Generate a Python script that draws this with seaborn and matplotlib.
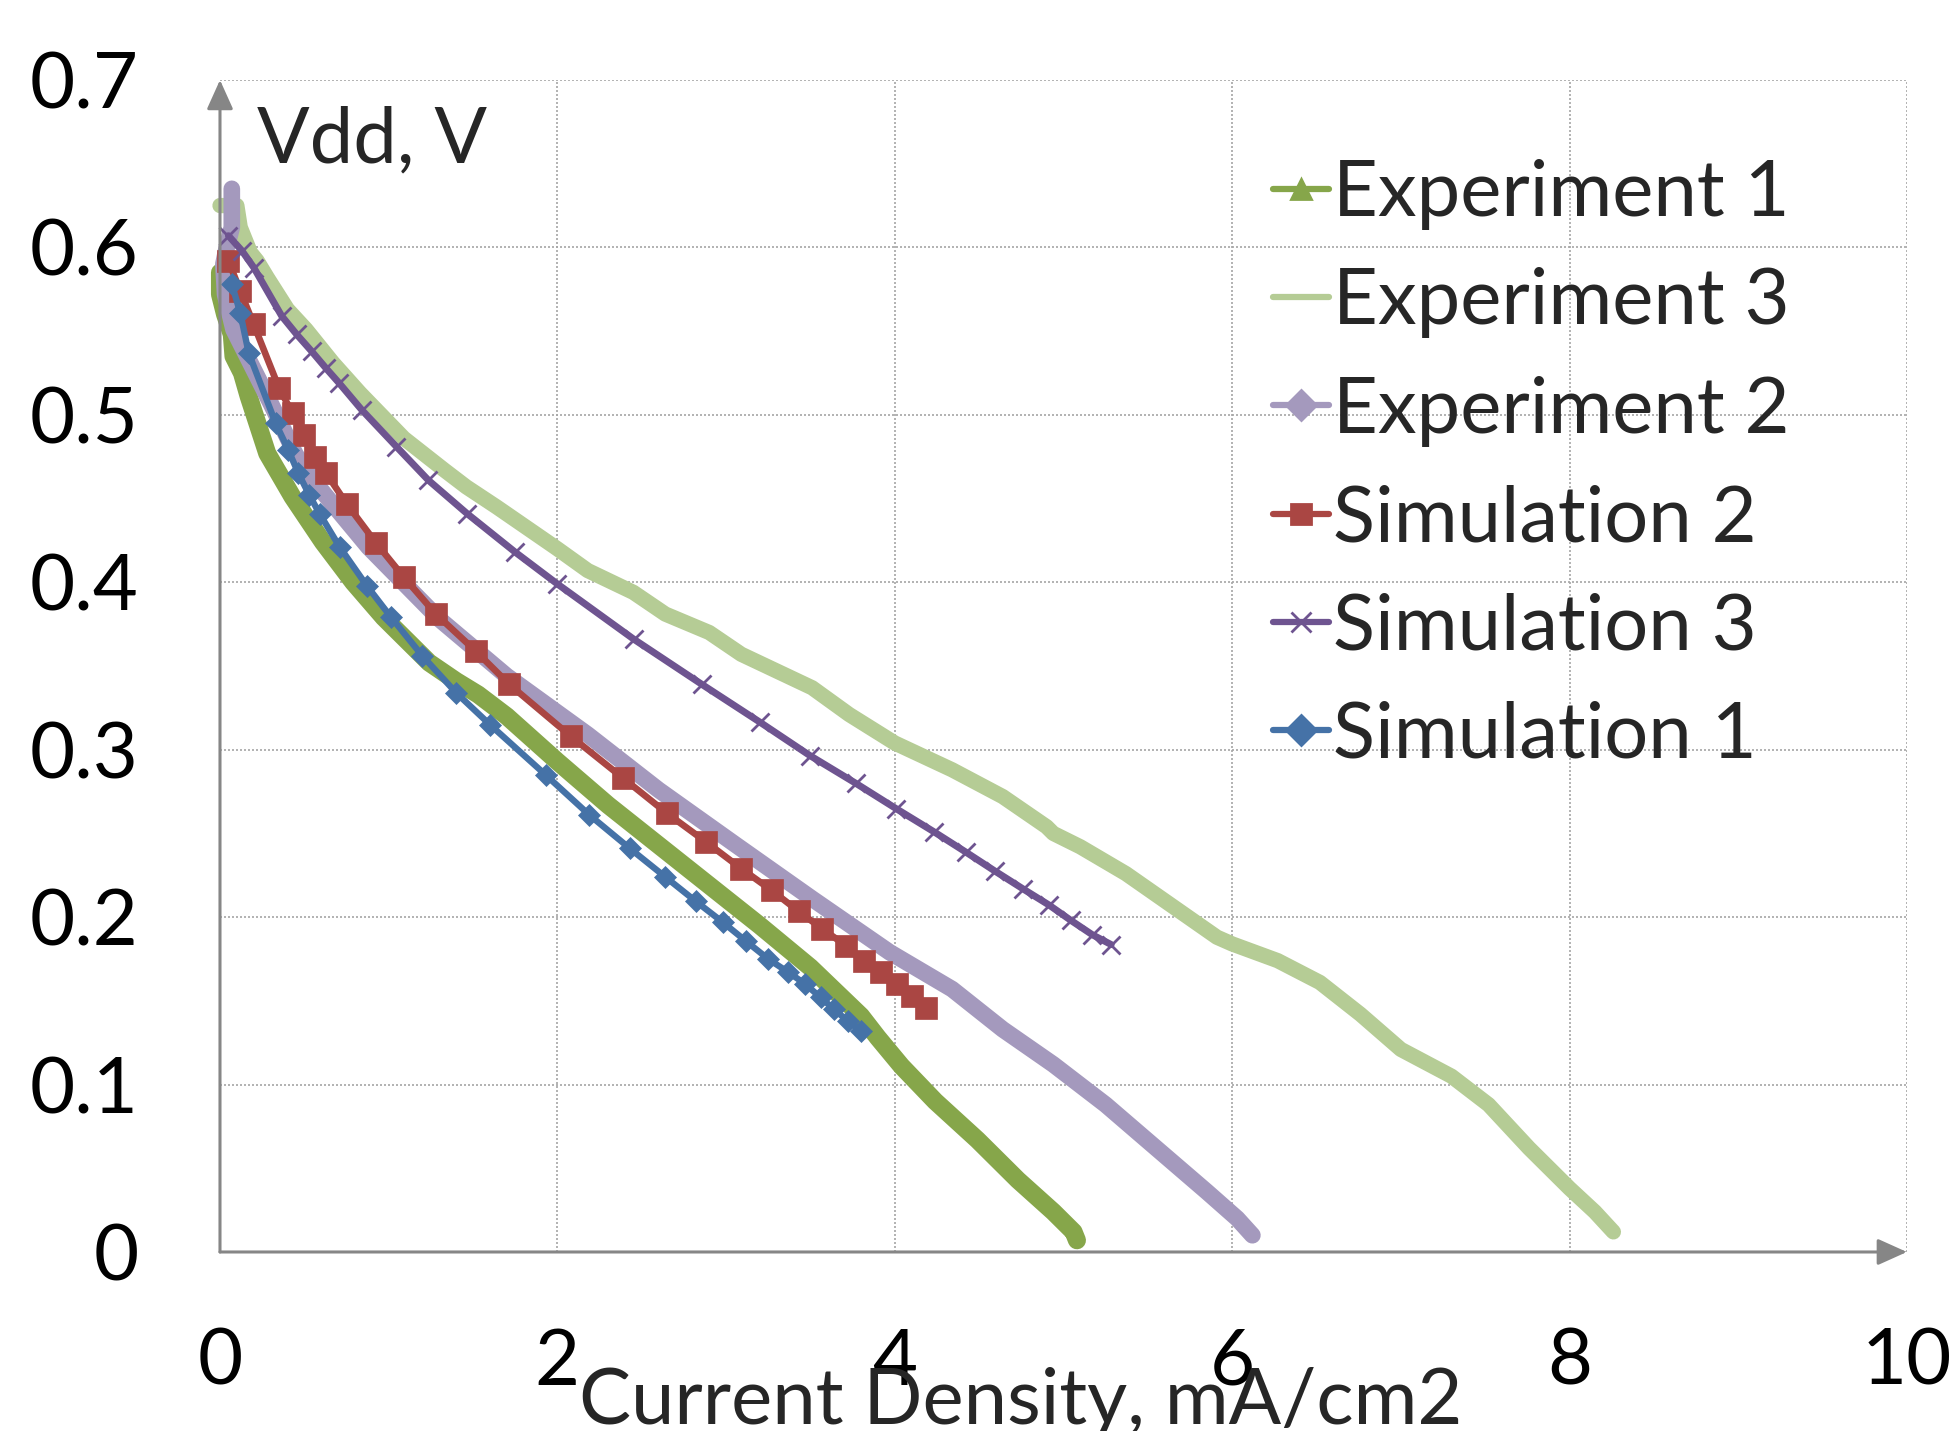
import numpy as np
import pandas as pd
import matplotlib
matplotlib.use("Agg")
import matplotlib.pyplot as plt
from matplotlib.lines import Line2D
from matplotlib.ticker import FixedLocator
import seaborn as sns

# values (current density mA/cm2, Vdd in V)
exp1_x = [0.00, 0.00, 0.03, 0.07, 0.08, 0.13, 0.17, 0.28, 0.43, 0.61, 0.79, 0.97, 1.24, 1.40,
          1.53, 1.70, 2.00, 2.30, 2.60, 2.90, 3.20, 3.50, 3.80, 3.90, 4.04, 4.24, 4.49, 4.73,
          4.94, 5.06, 5.08]
exp1_y = [0.585, 0.572, 0.560, 0.548, 0.535, 0.525, 0.511, 0.477, 0.451, 0.424, 0.400, 0.379,
          0.352, 0.341, 0.333, 0.320, 0.293, 0.267, 0.243, 0.219, 0.195, 0.170, 0.141, 0.128,
          0.111, 0.090, 0.067, 0.043, 0.024, 0.012, 0.007]

exp3_x = [0.00, 0.10, 0.12, 0.18, 0.22, 0.28, 0.40, 0.51, 0.67, 0.83, 1.09, 1.33, 1.46, 1.64,
          2.00, 2.18, 2.45, 2.64, 2.90, 3.09, 3.51, 3.73, 4.00, 4.34, 4.64, 4.90, 4.94, 5.10,
          5.37, 5.64, 5.91, 6.00, 6.27, 6.52, 6.76, 7.00, 7.30, 7.52, 7.76, 8.00, 8.15, 8.26]
exp3_y = [0.625, 0.625, 0.612, 0.597, 0.592, 0.582, 0.563, 0.551, 0.531, 0.513, 0.486, 0.467,
          0.457, 0.445, 0.420, 0.407, 0.394, 0.381, 0.370, 0.357, 0.337, 0.321, 0.304, 0.288,
          0.272, 0.254, 0.250, 0.242, 0.226, 0.207, 0.188, 0.184, 0.174, 0.161, 0.142, 0.121,
          0.105, 0.088, 0.062, 0.038, 0.024, 0.012]

exp2_x = [0.07, 0.07, 0.04, 0.02, 0.03, 0.08, 0.18, 0.30, 0.45, 0.60, 0.88, 1.30, 1.70, 2.18,
          2.60, 3.06, 3.51, 3.97, 4.34, 4.64, 4.94, 5.25, 5.55, 5.85, 6.03, 6.12]
exp2_y = [0.635, 0.612, 0.600, 0.590, 0.572, 0.551, 0.531, 0.507, 0.476, 0.455, 0.421, 0.378,
          0.344, 0.309, 0.276, 0.243, 0.211, 0.179, 0.157, 0.133, 0.112, 0.088, 0.062, 0.036,
          0.020, 0.010]

sim2_x = [0.05, 0.12, 0.20, 0.35, 0.43, 0.50, 0.565, 0.63, 0.75, 0.925, 1.09, 1.28, 1.515,
          1.715, 2.08, 2.39, 2.65, 2.88, 3.09, 3.27, 3.43, 3.57, 3.71, 3.82, 3.92, 4.015,
          4.105, 4.185]
sim2_y = [0.592, 0.574, 0.554, 0.516, 0.501, 0.488, 0.475, 0.465, 0.447, 0.4235, 0.403, 0.381,
          0.359, 0.339, 0.308, 0.283, 0.262, 0.245, 0.229, 0.216, 0.2035, 0.193, 0.183, 0.174,
          0.167, 0.160, 0.153, 0.146]

sim3_x = [0.05, 0.13, 0.20, 0.366, 0.455, 0.543, 0.627, 0.706, 0.84, 1.046, 1.235, 1.465,
          1.75, 2.00, 2.453, 2.857, 3.20, 3.497, 3.768, 4.008, 4.232, 4.422, 4.594, 4.763,
          4.915, 5.042, 5.171, 5.283]
sim3_y = [0.607, 0.598, 0.588, 0.559, 0.548, 0.538, 0.528, 0.519, 0.503, 0.481, 0.461, 0.441,
          0.418, 0.399, 0.366, 0.339, 0.3165, 0.2965, 0.280, 0.2648, 0.251, 0.2388, 0.2275,
          0.2167, 0.2072, 0.1982, 0.1895, 0.1836]

sim1_x = [0.07, 0.12, 0.17, 0.33, 0.405, 0.465, 0.53, 0.59, 0.71, 0.87, 1.015, 1.20, 1.40,
          1.60, 1.93, 2.19, 2.43, 2.64, 2.82, 2.98, 3.12, 3.25, 3.37, 3.47, 3.56, 3.64, 3.72,
          3.80]
sim1_y = [0.578, 0.561, 0.537, 0.495, 0.479, 0.465, 0.452, 0.441, 0.421, 0.398, 0.379, 0.356,
          0.334, 0.315, 0.285, 0.261, 0.241, 0.224, 0.2095, 0.197, 0.1855, 0.175, 0.167, 0.160,
          0.152, 0.145, 0.138, 0.132]

x_ticks = [0, 2, 4, 6, 8, 10]
y_ticks = [0, 0.1, 0.2, 0.3, 0.4, 0.5, 0.6, 0.7]
y_tick_labels = ["0", "0.1", "0.2", "0.3", "0.4", "0.5", "0.6", "0.7"]

sns.set_style("white")
plt.rcParams["font.family"] = ["Lato", "DejaVu Sans"]
FS = 56
AXIS_GREY = "#868686"

# (label, x, y, colour, line width, marker for the legend, marker on the plot, marker size)
series = [
    ("Experiment 1", exp1_x, exp1_y, "#86A64A", 13.0, "^", None, 0),
    ("Experiment 3", exp3_x, exp3_y, "#B5CC95", 11.0, None, None, 0),
    ("Experiment 2", exp2_x, exp2_y, "#A499BD", 12.0, "D", None, 0),
    ("Simulation 2", sim2_x, sim2_y, "#AA4643", 4.8, "s", "s", 16),
    ("Simulation 3", sim3_x, sim3_y, "#6E5490", 5.0, "x", "x", 13),
    ("Simulation 1", sim1_x, sim1_y, "#4572A7", 4.6, "D", "D", 11),
]

fig = plt.figure(figsize=(19.52, 14.31), dpi=100)
ax = fig.add_axes([0.1127, 0.1251, 0.8642, 0.8190])

handles = []
for name, xs, ys, col, lw, leg_marker, marker, ms in series:
    df = pd.DataFrame({"x": xs, "y": ys})
    sns.lineplot(data=df, x="x", y="y", ax=ax, sort=False, estimator=None, color=col,
                 linewidth=lw, marker=marker, markersize=ms, markeredgecolor=col,
                 markeredgewidth=2 if marker == "x" else 0.5, legend=False,
                 solid_joinstyle="round", clip_on=False)
    handles.append(Line2D([], [], color=col, lw=4.5, marker=leg_marker, markersize=15,
                          markeredgecolor=col, markeredgewidth=2, label=name))

ax.set_xlim(0, 10)
ax.set_ylim(0, 0.7)
ax.set_xticks(x_ticks)
ax.set_xticklabels([str(t) for t in x_ticks])
ax.set_yticks(y_ticks)
ax.set_yticklabels(y_tick_labels)
ax.xaxis.set_minor_locator(FixedLocator(np.arange(0, 10.01, 0.4)))
ax.yaxis.set_minor_locator(FixedLocator(np.arange(0, 0.701, 0.02)))
ax.xaxis.remove_overlapping_locs = False
ax.yaxis.remove_overlapping_locs = False

ax.tick_params(which="major", direction="out", length=19.5, width=1.5, color=AXIS_GREY,
               labelsize=FS, labelcolor="black")
ax.tick_params(axis="x", which="major", pad=35)
ax.tick_params(axis="y", which="major", pad=39)
ax.tick_params(which="minor", direction="inout", length=29, width=1.5, color="#a6a6a6")

ax.grid(True, which="major", color="#a6a6a6", linestyle=(0, (1.2, 1.2)), linewidth=1.2)
ax.set_axisbelow(True)
for s in ax.spines.values():
    s.set_visible(False)

# arrow-tipped axes
arrow = dict(arrowstyle="-|>,head_length=1.0,head_width=0.45", color=AXIS_GREY, lw=2.2,
             mutation_scale=18, shrinkA=0, shrinkB=0)
ax.annotate("", xy=(0, 1), xytext=(0, 0), xycoords="axes fraction", arrowprops=arrow)
ax.annotate("", xy=(1, 0), xytext=(0, 0), xycoords="axes fraction", arrowprops=arrow)

ax.set_xlabel("Current Density, mA/cm2", fontsize=FS)
ax.xaxis.set_label_coords(0.4748, -0.146)
ax.xaxis.label.set_va("baseline")
ax.set_ylabel("Vdd, V", fontsize=FS, rotation=0)
ax.yaxis.set_label_coords(0.022, 0.930)
ax.yaxis.label.set_ha("left")
ax.yaxis.label.set_va("baseline")

ax.legend(handles=handles, loc="upper left", bbox_to_anchor=(1273 / 1952, 1 - 159 / 1431),
          bbox_transform=fig.transFigure, frameon=False, fontsize=FS, handlelength=0.72,
          handletextpad=0.05, labelspacing=0.48, borderpad=0, borderaxespad=0)

fig.savefig("out.png", dpi=100)
